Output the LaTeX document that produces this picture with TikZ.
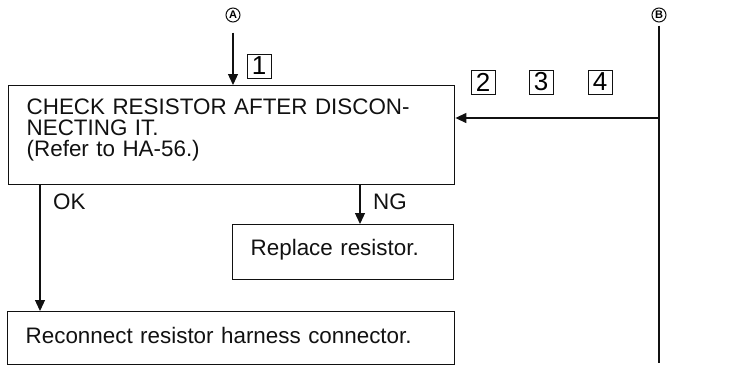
\documentclass[tikz,border=0pt]{standalone}
\usepackage{fontspec}
\setmainfont{Liberation Sans}
\usetikzlibrary{arrows.meta,positioning}
\definecolor{ScanInk}{HTML}{111111}
\newcommand{\liftby}[1]{\rule[-#1]{0pt}{#1}}
\tikzset{
  flowtext/.style={font=\fontsize{22.4}{21}\selectfont, text=ScanInk},
  stepbox/.style={flowtext, draw=ScanInk, line width=1.4pt, rectangle, inner xsep=18pt, inner ysep=0pt, anchor=north west, align=left},
  tagbox/.style={draw=ScanInk, line width=1pt, minimum size=24pt, inner sep=0pt, font=\fontsize{26}{26}\selectfont},
  markcircle/.style={draw=ScanInk, circle, line width=1pt, minimum size=14pt, inner sep=0pt, font=\bfseries\fontsize{11}{11}\selectfont},
  flowarrow/.style={-{Triangle[length=11pt,width=10pt]}, line width=1.3pt, draw=ScanInk},
  branchlabel/.style={flowtext, anchor=west, inner sep=0pt}
}
\begin{document}
\begin{tikzpicture}[x=1pt, y=-1pt]
\useasboundingbox (0,0) rectangle (732,367);
% step boxes
\node[stepbox, minimum width=446pt, minimum height=99pt, text width=410pt] (check) at (8,85) {CHECK RESISTOR AFTER DISCON-\\NECTING IT.\\(Refer to HA-56.)\liftby{15pt}};
\node[stepbox, minimum width=221pt, minimum height=55pt, text width=185pt] (replace) at (232,224) {Replace resistor.\liftby{10pt}};
\node[stepbox, minimum width=447pt, minimum height=53pt, text width=411pt] (reconnect) at (7,311) {Reconnect resistor harness connector.\liftby{5pt}};
% entry marks and tags
\node[markcircle] (markA) at (233,15) {A};
\node[markcircle] (markB) at (659,15) {B};
\node[tagbox] (tag1) at (259,66) {1};
\foreach \n/\x in {2/483,3/541,4/600}
  \node[tagbox] (tag\n) at (\x,82) {\n};
% connectors
\coordinate (Bend) at (659,363);
\coordinate (Bjoin) at (659,118);
\coordinate (ng) at (360,0);
\coordinate (ok) at (40,0);
\draw[flowarrow] ([yshift=-10pt]markA.south) -- (markA |- check.north);
\draw[line width=1.5pt, draw=ScanInk] ([yshift=-3pt]markB.south) -- (Bend);
\draw[flowarrow] (Bjoin) -- (Bjoin -| check.east);
\draw[flowarrow] (ng |- check.south) -- (ng |- replace.north);
\draw[flowarrow] (ok |- check.south) -- (ok |- reconnect.north);
\node[branchlabel] (oklabel) at (53,202) {OK};
\node[branchlabel] (nglabel) at (373,202) {NG};
\end{tikzpicture}
\end{document}
